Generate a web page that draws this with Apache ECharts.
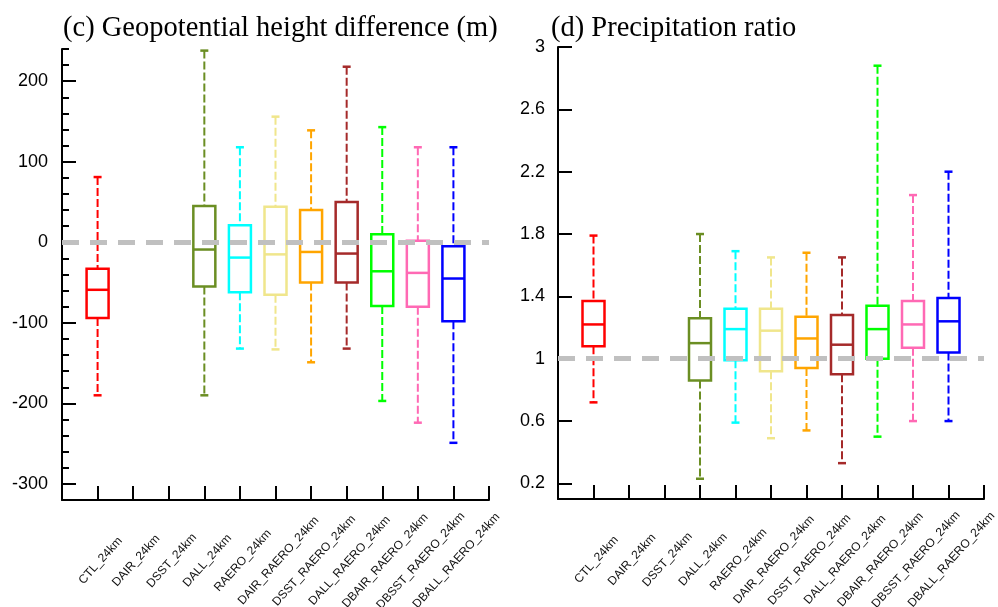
<!DOCTYPE html>
<html>
<head>
<meta charset="utf-8">
<script src="https://cdn.jsdelivr.net/npm/echarts@6/dist/echarts.min.js"></script>
<style>
  html, body { margin: 0; padding: 0; background: #fff; }
  #chart { width: 998px; height: 607px; }
</style>
</head>
<body>
<div id="chart"></div>
<script>
// experiment names on the x axis
const xLabels = ['CTL_24km', 'DAIR_24km', 'DSST_24km', 'DALL_24km', 'RAERO_24km',
  'DAIR_RAERO_24km', 'DSST_RAERO_24km', 'DALL_RAERO_24km', 'DBAIR_RAERO_24km',
  'DBSST_RAERO_24km', 'DBALL_RAERO_24km']
const boxColors = ['#ff0000', null, null, '#6b8e23', '#00ffff', '#f0e68c',
  '#ffa500', '#a52a2a', '#00ff00', '#ff69b4', '#0000ff']

// (c) geopotential height difference (m)
const ghMin = [-190, null, null, -190, -132, -133, -149, -132, -197, -224, -249]
const ghQ1  = [-94, null, null, -55, -62, -65, -50, -50, -79, -80, -98]
const ghMed = [-59, null, null, -9, -19, -15, -12, -14, -36, -38, -45]
const ghQ3  = [-33, null, null, 45, 21, 44, 40, 50, 10, 2, -5]
const ghMax = [81, null, null, 238, 118, 156, 139, 218, 143, 118, 118]
const ghTicks = [-300, -200, -100, 0, 100, 200]
const ghMinorTicks = [-280, -260, -240, -220, -180, -160, -140, -120, -80, -60, -40, -20,
  20, 40, 60, 80, 120, 140, 160, 180, 220, 240]

// (d) precipitation ratio
const prMin = [0.72, null, null, 0.23, 0.59, 0.49, 0.54, 0.33, 0.50, 0.60, 0.60]
const prQ1  = [1.08, null, null, 0.86, 0.99, 0.92, 0.94, 0.90, 1.00, 1.07, 1.04]
const prMed = [1.22, null, null, 1.10, 1.19, 1.18, 1.13, 1.09, 1.19, 1.22, 1.24]
const prQ3  = [1.37, null, null, 1.26, 1.32, 1.32, 1.27, 1.28, 1.34, 1.37, 1.39]
const prMax = [1.79, null, null, 1.80, 1.69, 1.65, 1.68, 1.65, 2.88, 2.05, 2.20]
const prTicks = [0.2, 0.6, 1, 1.4, 1.8, 2.2, 2.6, 3]

const axisCats = [''].concat(xLabels, [''])
const sansFont = '"Liberation Sans", Arial, Helvetica, sans-serif'
const serifFont = '"Liberation Serif", "Times New Roman", serif'

function boxData(mins, q1s, meds, q3s, maxs) {
  const out = []
  for (let i = 0; i < xLabels.length; i++) {
    if (mins[i] == null) continue
    out.push([i + 1, mins[i], q1s[i], meds[i], q3s[i], maxs[i], i])
  }
  return out
}

function renderBox(params, api) {
  const x = api.value(0)
  const color = boxColors[api.value(6)]
  const pMin = api.coord([x, api.value(1)])
  const pQ1 = api.coord([x, api.value(2)])
  const pMed = api.coord([x, api.value(3)])
  const pQ3 = api.coord([x, api.value(4)])
  const pMax = api.coord([x, api.value(5)])
  const cx = pMin[0]
  const half = 11
  const cap = 4
  const dash = { stroke: color, lineWidth: 2, lineDash: [8, 3] }
  const solid = { stroke: color, lineWidth: 2.5 }
  return {
    type: 'group',
    children: [
      { type: 'line', shape: { x1: cx, y1: pMax[1], x2: cx, y2: pQ3[1] }, style: dash },
      { type: 'line', shape: { x1: cx, y1: pQ1[1], x2: cx, y2: pMin[1] }, style: dash },
      { type: 'line', shape: { x1: cx - cap, y1: pMax[1], x2: cx + cap, y2: pMax[1] }, style: solid },
      { type: 'line', shape: { x1: cx - cap, y1: pMin[1], x2: cx + cap, y2: pMin[1] }, style: solid },
      { type: 'rect', shape: { x: cx - half, y: pQ3[1], width: half * 2, height: pQ1[1] - pQ3[1] },
        style: { stroke: color, lineWidth: 2.5, fill: null } },
      { type: 'line', shape: { x1: cx - half, y1: pMed[1], x2: cx + half, y2: pMed[1] }, style: solid }
    ]
  }
}

function xAxisFor(gridIndex) {
  return {
    type: 'category',
    gridIndex: gridIndex,
    data: axisCats,
    boundaryGap: false,
    axisLine: { onZero: false, lineStyle: { color: '#000', width: 2 } },
    axisTick: { inside: true, length: 14, interval: 0, lineStyle: { color: '#000', width: 2 } },
    axisLabel: {
      interval: 0,
      rotate: 48,
      align: 'center',
      verticalAlign: 'middle',
      margin: 64,
      padding: [0, 0, 0, 9],
      fontSize: 12,
      fontFamily: sansFont,
      color: '#111'
    },
    splitLine: { show: false }
  }
}

const chart = echarts.init(document.getElementById('chart'))
chart.setOption({
  animation: false,
  title: [
    { text: '(c) Geopotential height difference (m)', left: 58, top: 9,
      textStyle: { fontFamily: serifFont, fontSize: 28.5, fontWeight: 'normal', color: '#000' } },
    { text: '(d) Precipitation ratio', left: 546, top: 9,
      textStyle: { fontFamily: serifFont, fontSize: 28.5, fontWeight: 'normal', color: '#000' } }
  ],
  grid: [
    { left: 62, top: 49, width: 427, height: 451, outerBoundsMode: 'none', containLabel: false },
    { left: 558, top: 47, width: 426, height: 452, outerBoundsMode: 'none', containLabel: false }
  ],
  xAxis: [xAxisFor(0), xAxisFor(1)],
  yAxis: [
    {
      type: 'value', gridIndex: 0, position: 'left', min: -320, max: 240,
      axisLine: { show: true, lineStyle: { color: '#000', width: 2 } },
      axisTick: { show: true, inside: true, length: 14, customValues: ghTicks, lineStyle: { color: '#000', width: 2 } },
      axisLabel: { customValues: ghTicks, margin: 14, fontSize: 18, fontFamily: sansFont, color: '#000' },
      splitLine: { show: false }
    },
    {
      type: 'value', gridIndex: 0, position: 'left', offset: 0, min: -320, max: 240,
      axisLine: { show: false },
      axisTick: { show: true, inside: true, length: 7, customValues: ghMinorTicks, lineStyle: { color: '#000', width: 2 } },
      axisLabel: { show: false },
      splitLine: { show: false }
    },
    {
      type: 'value', gridIndex: 1, position: 'left', min: 0.1, max: 3,
      axisLine: { show: true, lineStyle: { color: '#000', width: 2 } },
      axisTick: { show: true, inside: true, length: 14, customValues: prTicks, lineStyle: { color: '#000', width: 2 } },
      axisLabel: { customValues: prTicks, margin: 13, fontSize: 18, fontFamily: sansFont, color: '#000' },
      splitLine: { show: false }
    }
  ],
  series: [
    {
      type: 'custom',
      xAxisIndex: 0,
      yAxisIndex: 0,
      encode: { x: 0, y: [1, 2, 3, 4, 5] },
      data: boxData(ghMin, ghQ1, ghMed, ghQ3, ghMax),
      renderItem: renderBox,
      z: 2
    },
    {
      type: 'custom',
      xAxisIndex: 1,
      yAxisIndex: 2,
      encode: { x: 0, y: [1, 2, 3, 4, 5] },
      data: boxData(prMin, prQ1, prMed, prQ3, prMax),
      renderItem: renderBox,
      z: 2
    },
    {
      type: 'line', xAxisIndex: 0, yAxisIndex: 0, data: [], z: 5,
      markLine: {
        silent: true, symbol: 'none', label: { show: false },
        lineStyle: { color: '#c0c0c0', width: 5, type: [17, 11] },
        data: [{ yAxis: 0 }]
      }
    },
    {
      type: 'line', xAxisIndex: 1, yAxisIndex: 2, data: [], z: 5,
      markLine: {
        silent: true, symbol: 'none', label: { show: false },
        lineStyle: { color: '#c0c0c0', width: 5, type: [17, 11] },
        data: [{ yAxis: 1 }]
      }
    }
  ]
})
</script>
</body>
</html>
